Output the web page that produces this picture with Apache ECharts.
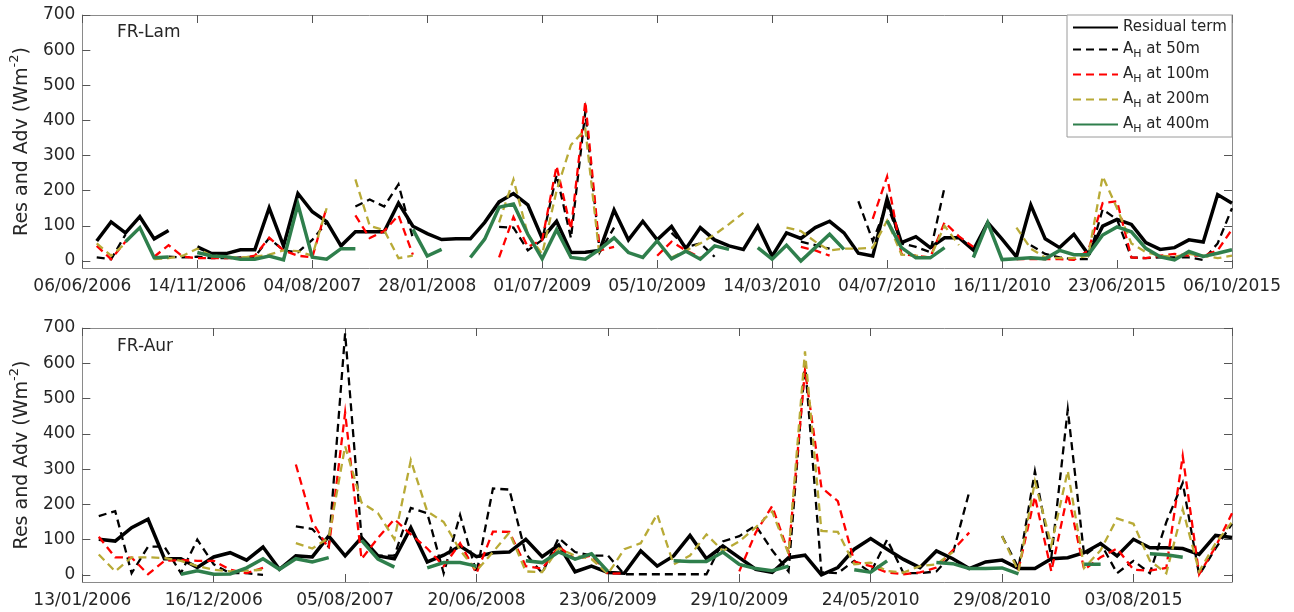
<!DOCTYPE html>
<html><head><meta charset="utf-8">
<script src="https://cdn.jsdelivr.net/npm/echarts@6/dist/echarts.min.js"></script>
<style>html,body{margin:0;padding:0;background:#fff}#c{width:1294px;height:612px}</style>
</head><body><div id="c"></div>
<script>
// ---------- DATA ----------
const seriesNames = ['Residual term', 'A_H at 50m', 'A_H at 100m', 'A_H at 200m', 'A_H at 400m'];
const yTicks = [0, 100, 200, 300, 400, 500, 600, 700];

// FR-Lam panel: sample positions 1..80, ticks every 8 samples
const lamTickLabels = ['06/06/2006','14/11/2006','04/08/2007','28/01/2008','01/07/2009','05/10/2009','14/03/2010','04/07/2010','16/11/2010','23/06/2015','06/10/2015'];
const lamResidual = [57,111,80,126,63,87,null,40,21,21, 32,32,151,43,192,140,112,43,83,83, 83,165,99,78,61,63,63,110,168,192, 160,64,113,24,25,30,145,60,113,60, 98,35,95,60,43,33,99,14,80,64, 95,113,80,22,14,177,52,69,38,66, 66,31,109,62,12,159,63,38,76,19, 99,118,104,52,33,38,60,54,189,164];
const lamA50 = [10,5,75,null,null,12,10,12,8,8, 10,12,65,30,25,60,110,null,155,175, 155,218,65,null,null,null,null,null,97,95, 30,60,245,65,425,25,95,null,null,null, 80,40,50,12,null,null,null,null,null,55, 45,35,null,170,57,160,50,40,25,210, null,null,null,null,null,45,20,10,5,5, 147,118,10,8,10,10,10,3,50,150];
const lamA100 = [43,5,55,null,12,45,12,8,8,8, 8,15,66,30,15,10,153,null,130,65, 85,130,18,null,null,null,null,null,10,125, 40,60,270,90,454,30,40,null,null,15, 55,30,10,null,null,null,null,null,null,40, 30,15,null,null,120,240,19,15,10,110, 70,40,null,null,5,5,5,5,3,30, 165,170,10,8,15,20,15,15,30,90];
const lamA200 = [50,15,50,null,5,8,15,35,15,12, 10,12,18,30,28,15,150,null,232,100, 88,8,15,null,null,null,null,null,110,232, 75,20,200,330,375,10,null,null,null,null, 10,30,50,75,105,137,null,null,95,85, 55,30,35,35,38,115,18,15,10,100, 45,null,null,null,95,35,10,8,8,15, 241,150,50,25,15,12,20,15,8,15];
const lamA400 = [null,null,55,95,9,11,null,24,14,12, 5,5,14,3,161,11,5,35,35,null, null,null,90,14,33,null,10,62,153,162, 76,6,89,10,5,33,66,24,10,57, 6,28,5,43,33,null,38,5,45,0, 38,76,33,null,null,115,38,9,9,38, null,10,109,4,6,9,6,30,18,18, 74,97,83,36,12,3,27,13,22,32];

// FR-Aur panel: sample positions 1..70, ticks every 8 samples
const aurTickLabels = ['13/01/2006','16/12/2006','05/08/2007','20/06/2008','23/06/2009','29/10/2009','24/05/2010','29/08/2010','03/08/2015'];
const aurResidual = [101,96,134,158,46,46,21,51,63,42, 79,16,54,51,110,54,106,54,46,134, 37,56,82,52,63,65,101,52,85,9, 25,7,5,68,25,54,112,46,82,49, 16,7,49,56,0,21,73,103,73,44, 21,68,46,18,37,42,18,18,46,49, 63,89,54,101,77,77,75,58,112,106];
const aurA50 = [167,181,5,80,80,5,100,30,5,5, 0,null,138,130,80,685,105,55,55,190, 175,5,170,5,245,242,60,5,105,65, 55,55,2,2,2,2,2,2,95,110, 140,70,10,601,8,5,40,7,100,5, 5,10,60,235,null,110,20,294,50,469, 55,90,5,40,5,150,261,0,75,145];
const aurA100 = [108,50,49,2,40,42,40,40,15,5, 20,null,313,150,75,460,45,105,158,115, 75,25,90,5,123,122,25,18,80,45, 55,3,5,null,null,null,null,null,null,10, 120,195,63,580,248,209,38,25,7,2, 7,21,70,120,null,null,15,222,10,230, 15,50,75,15,12,20,337,2,80,175];
const aurA200 = [58,10,50,50,48,40,25,15,10,12, 15,null,90,75,105,365,205,175,101,325, 180,150,70,12,65,120,10,8,75,55, 45,3,73,90,172,30,55,115,68,95, 135,180,60,634,125,122,30,35,11,7, 25,30,65,null,null,110,10,265,85,295, 20,70,160,145,40,5,186,10,90,150];
const aurA400 = [null,null,null,null,null,2,12,2,3,20, 46,16,46,37,49,null,98,45,22,null, 20,35,35,25,null,null,40,35,65,45, 60,10,null,null,null,40,38,38,65,30, 18,12,25,null,null,null,15,8,40,null, null,35,32,18,18,20,3,null,null,null, 30,30,null,null,60,57,50,null,null,null];

// ---------- STYLE ----------
const FONT = 'DejaVu Sans';
const TXT = '#262626';
const AX = '#8a8a8a';
const styles = [
  {color: '#000000', width: 3.5, type: 'solid'},
  {color: '#000000', width: 2.3, type: [8, 5]},
  {color: '#ff0000', width: 2.3, type: [8, 5]},
  {color: '#b8aa36', width: 2.3, type: [8, 5]},
  {color: '#2f7f4c', width: 3.5, type: 'solid'}
];
const toXY = arr => arr.map((v, i) => [i + 1, v === null ? '-' : v]);

function xAxes(grid, max, labels) {
  const common = {type: 'value', gridIndex: grid, min: 0, max: max, interval: 8,
    splitLine: {show: false},
    axisLine: {show: true, onZero: false, lineStyle: {color: AX, width: 1}},
    axisTick: {show: true, inside: true, length: 8, lineStyle: {color: '#555'}}};
  return [
    Object.assign({}, common, {position: 'bottom',
      axisLabel: {show: true, margin: 10, fontSize: 17, fontFamily: FONT, color: TXT,
        showMaxLabel: true, showMinLabel: true,
        formatter: v => (v % 8 === 0 && labels[v / 8] !== undefined) ? labels[v / 8] : ''}}),
    Object.assign({}, common, {position: 'top', axisLabel: {show: false}})
  ];
}
function yAxes(grid) {
  const common = {type: 'value', gridIndex: grid, min: -20, max: 700,
    splitLine: {show: false},
    axisLine: {show: true, onZero: false, lineStyle: {color: AX, width: 1}},
    axisTick: {show: true, inside: true, length: 8, customValues: yTicks, lineStyle: {color: '#555'}}};
  return [
    Object.assign({}, common, {position: 'left',
      name: '{a|Res and Adv (Wm}{s|-2}{a|)}', nameLocation: 'middle', nameGap: 38, nameRotate: 90,
      nameTextStyle: {rich: {
        a: {fontSize: 19, fontFamily: FONT, color: TXT, lineHeight: 24, verticalAlign: 'bottom'},
        s: {fontSize: 13, fontFamily: FONT, color: TXT, lineHeight: 13, verticalAlign: 'top'}}},
      axisLabel: {show: true, margin: 7, fontSize: 17, fontFamily: FONT, color: TXT, customValues: yTicks}}),
    Object.assign({}, common, {position: 'right', axisLabel: {show: false}})
  ];
}

const panels = [
  [lamResidual, lamA50, lamA100, lamA200, lamA400],
  [aurResidual, aurA50, aurA100, aurA200, aurA400]
];
const series = [];
panels.forEach((set, p) => {
  set.forEach((arr, k) => {
    series.push({
      name: seriesNames[k], type: 'line', xAxisIndex: p * 2, yAxisIndex: p * 2,
      data: toXY(arr), symbol: 'none', connectNulls: false, animation: false,
      lineStyle: {color: styles[k].color, width: styles[k].width, type: styles[k].type, cap: 'butt', join: 'miter'},
      itemStyle: {color: styles[k].color}, z: 2 + k * 0.01
    });
  });
});

const chart = echarts.init(document.getElementById('c'), null, {renderer: 'canvas'});
chart.setOption({
  animation: false,
  backgroundColor: '#ffffff',
  grid: [
    {left: 77, top: 15, width: 1155, height: 253},
    {left: 77, top: 328, width: 1155, height: 254}
  ],
  xAxis: [].concat(xAxes(0, 80, lamTickLabels), xAxes(1, 70, aurTickLabels)),
  yAxis: [].concat(yAxes(0), yAxes(1)),
  legend: {
    orient: 'vertical', left: 1072, top: 20, padding: 0, itemWidth: 45, itemHeight: 14, itemGap: 4,
    selectedMode: false, data: seriesNames, z: 10,
    itemStyle: {opacity: 0, color: 'rgba(0,0,0,0)', borderColor: 'rgba(0,0,0,0)', borderWidth: 0},
    formatter: n => n.indexOf('A_H') === 0 ? '{a|A}{s|H}{a|' + n.slice(3) + '}' : '{r|' + n + '}',
    textStyle: {rich: {
      r: {fontSize: 15, fontFamily: FONT, color: TXT, lineHeight: 22},
      a: {fontSize: 15, fontFamily: FONT, color: TXT, lineHeight: 16, verticalAlign: 'top'},
      s: {fontSize: 11, fontFamily: FONT, color: TXT, lineHeight: 12, padding: [10, 0, 0, 0]}}}
  },
  graphic: [
    {type: 'rect', z: 5, shape: {x: 1067, y: 15, width: 165, height: 122},
      style: {fill: '#ffffff', stroke: '#9a9a9a', lineWidth: 1}},
    {type: 'text', z: 6, left: 117, top: 24, style: {text: 'FR-Lam', fontSize: 17, fontFamily: FONT, fill: TXT}},
    {type: 'text', z: 6, left: 117, top: 338, style: {text: 'FR-Aur', fontSize: 17, fontFamily: FONT, fill: TXT}}
  ],
  series: series
});
</script>
</body></html>
